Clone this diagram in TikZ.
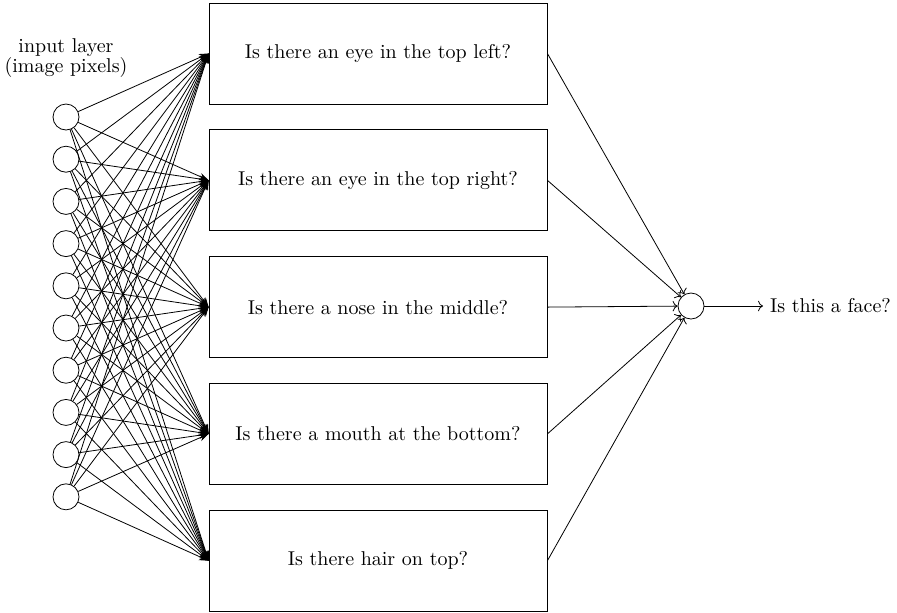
\documentclass[tikz,border=0pt]{standalone}
\usetikzlibrary{positioning, arrows.meta}

\begin{document}
\begin{tikzpicture}[
    x=0.5pt, y=-0.5pt,
    neuron/.style={circle, draw, minimum size=13pt, inner sep=0pt},
    question/.style={rectangle, draw, minimum width=169pt, minimum height=50.5pt},
    node distance=12.5pt]
\useasboundingbox (0,0) rectangle (897,612);

% input layer
\node[align=center] (label) at (66,58) {input layer\\[-2pt](image pixels)};
\foreach \i in {1,...,10}
    \node[neuron] (in\i) at (66,{117+42.2*(\i-1)}) {};

% hidden questions
\node[question] (q1) at (378,53.5) {Is there an eye in the top left?};
\node[question, below=of q1] (q2) {Is there an eye in the top right?};
\node[question, below=of q2] (q3) {Is there a nose in the middle?};
\node[question, below=of q3] (q4) {Is there a mouth at the bottom?};
\node[question, below=of q4] (q5) {Is there hair on top?};

% output
\node[neuron] (out) at (691,306) {};
\node[anchor=west] (face) at (763,306) {Is this a face?};

\foreach \i in {1,...,10}
    \foreach \j in {1,...,5}
        \draw[-Stealth] (in\i) -- (q\j.west);
\foreach \j in {1,...,5}
    \draw[->] (q\j.east) -- (out);
\draw[->] (out) -- (face);
\end{tikzpicture}
\end{document}
